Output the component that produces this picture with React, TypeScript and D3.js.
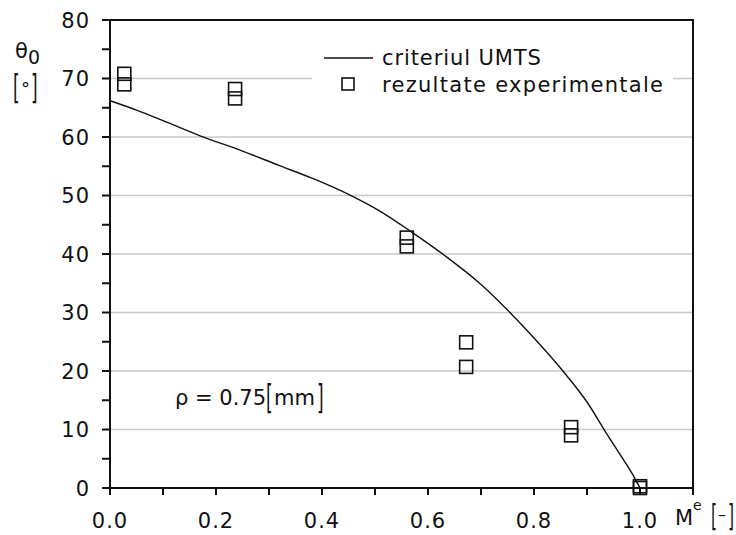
import * as d3 from "d3";

// criteriul UMTS curve (M^e, theta0)
const curveM = [0, 0.05, 0.1, 0.17, 0.25, 0.32, 0.38, 0.45, 0.51, 0.57, 0.635, 0.7, 0.786, 0.86, 0.9, 0.937, 0.969, 0.99, 1.0];
const curveTheta = [66.2, 64.6, 62.8, 60.2, 57.6, 55.1, 53.0, 50.2, 47.3, 43.7, 39.5, 34.8, 27.0, 19.4, 14.7, 9.3, 4.8, 1.7, 0];

// rezultate experimentale
const expM = [0.027, 0.027, 0.236, 0.236, 0.56, 0.56, 0.672, 0.672, 0.87, 0.87, 1.0, 1.0];
const expTheta = [70.8, 69.0, 68.2, 66.6, 42.8, 41.3, 24.9, 20.7, 10.4, 9.0, 0.3, 0];

const xTickLabels = [0, 0.2, 0.4, 0.6, 0.8, 1.0];
const yTickLabels = [0, 10, 20, 30, 40, 50, 60, 70, 80];
const gridValues = [10, 20, 30, 40, 50, 60, 70];

const W = 736;
const H = 535;
const FONT = "DejaVu Sans";

function Br({ x, y, ch, size = 34 }: { x: number; y: number; ch: string; size?: number }) {
  return (
    <text transform={`translate(${x},${y}) scale(0.5,1)`} fontSize={size} fontFamily={FONT} fill="#111">
      {ch}
    </text>
  );
}

export default function App() {
  const x = d3.scaleLinear().domain([0, 1.1]).range([110, 693]);
  const y = d3.scaleLinear().domain([0, 80]).range([488, 20]);

  const pts = curveM.map((m, i) => [m, curveTheta[i]] as [number, number]);
  const line = d3
    .line<[number, number]>()
    .x((d) => x(d[0]))
    .y((d) => y(d[1]))
    .curve(d3.curveMonotoneX);

  const xTicks = d3.range(0, 12).map((i) => i / 10);
  const yTicks = d3.range(0, 17).map((i) => i * 5);
  const sq = 13;

  return (
    <svg width={W} height={H} style={{ position: "absolute", left: 0, top: 0, background: "#fff" }}>
      <rect width={W} height={H} fill="#fff" />

      {/* gridlines */}
      {gridValues.map((v) => (
        <line key={v} x1={x(0)} x2={x(1.1)} y1={y(v)} y2={y(v)} stroke="#c8c8c8" strokeWidth={1.6} />
      ))}

      {/* legend box */}
      <rect x={312} y={44} width={361} height={56} fill="#fff" />
      <line x1={324} x2={373} y1={58} y2={58} stroke="#111" strokeWidth={1.5} />
      <text x={382} y={65} fontSize={21} fontFamily={FONT} letterSpacing={0.9} fill="#111">
        criteriul UMTS
      </text>
      <rect x={348 - 6} y={84 - 6} width={12} height={12} fill="none" stroke="#111" strokeWidth={1.6} />
      <text x={382} y={92} fontSize={21} fontFamily={FONT} letterSpacing={1.3} fill="#111">
        rezultate experimentale
      </text>

      {/* frame */}
      <rect x={x(0)} y={y(80)} width={x(1.1) - x(0)} height={y(0) - y(80)} fill="none" stroke="#111" strokeWidth={2} />

      {/* ticks */}
      {xTicks.map((t) => (
        <line key={t} x1={x(t)} x2={x(t)} y1={y(0)} y2={y(0) + 7} stroke="#111" strokeWidth={2} />
      ))}
      {yTicks.map((t) => (
        <line key={t} x1={x(0) - 8} x2={x(0)} y1={y(t)} y2={y(t)} stroke="#111" strokeWidth={2} />
      ))}

      {/* tick labels */}
      {xTickLabels.map((t) => (
        <text key={t} x={x(t)} y={528} textAnchor="middle" fontSize={21} fontFamily={FONT} letterSpacing={1} fill="#111">
          {t.toFixed(1)}
        </text>
      ))}
      {yTickLabels.map((t) => (
        <text key={t} x={90} y={y(t) + 7.5} textAnchor="end" fontSize={21} fontFamily={FONT} letterSpacing={1} fill="#111">
          {t}
        </text>
      ))}

      {/* curve */}
      <path d={line(pts) ?? ""} fill="none" stroke="#111" strokeWidth={1.4} />

      {/* experimental points */}
      {expM.map((m, i) => (
        <rect
          key={i}
          x={x(m) - sq / 2}
          y={y(expTheta[i]) - sq / 2}
          width={sq}
          height={sq}
          fill="none"
          stroke="#111"
          strokeWidth={1.6}
        />
      ))}

      {/* y axis title */}
      <text x={15} y={58} fontSize={21} fontFamily={FONT} fill="#111">θ</text>
      <text x={28} y={64} fontSize={19} fontFamily={FONT} fill="#111">0</text>
      <Br x={13} y={99} ch="[" />
      <text x={21} y={95} fontSize={18} fontFamily={FONT} fill="#111">°</text>
      <Br x={31} y={99} ch="]" />

      {/* x axis title */}
      <text x={675} y={525} fontSize={21} fontFamily={FONT} fill="#111">M</text>
      <text x={693} y={510} fontSize={14} fontFamily={FONT} fill="#111">e</text>
      <Br x={711} y={526} ch="[" size={31} />
      <text x={718} y={520} fontSize={16} fontFamily={FONT} fill="#111">–</text>
      <Br x={728} y={526} ch="]" size={31} />

      {/* annotation */}
      <text x={175} y={405} fontSize={21} fontFamily={FONT} fill="#111">ρ = 0.75</text>
      <Br x={266} y={409} ch="[" />
      <text x={274} y={405} fontSize={21} fontFamily={FONT} fill="#111">mm</text>
      <Br x={317} y={409} ch="]" />
    </svg>
  );
}
